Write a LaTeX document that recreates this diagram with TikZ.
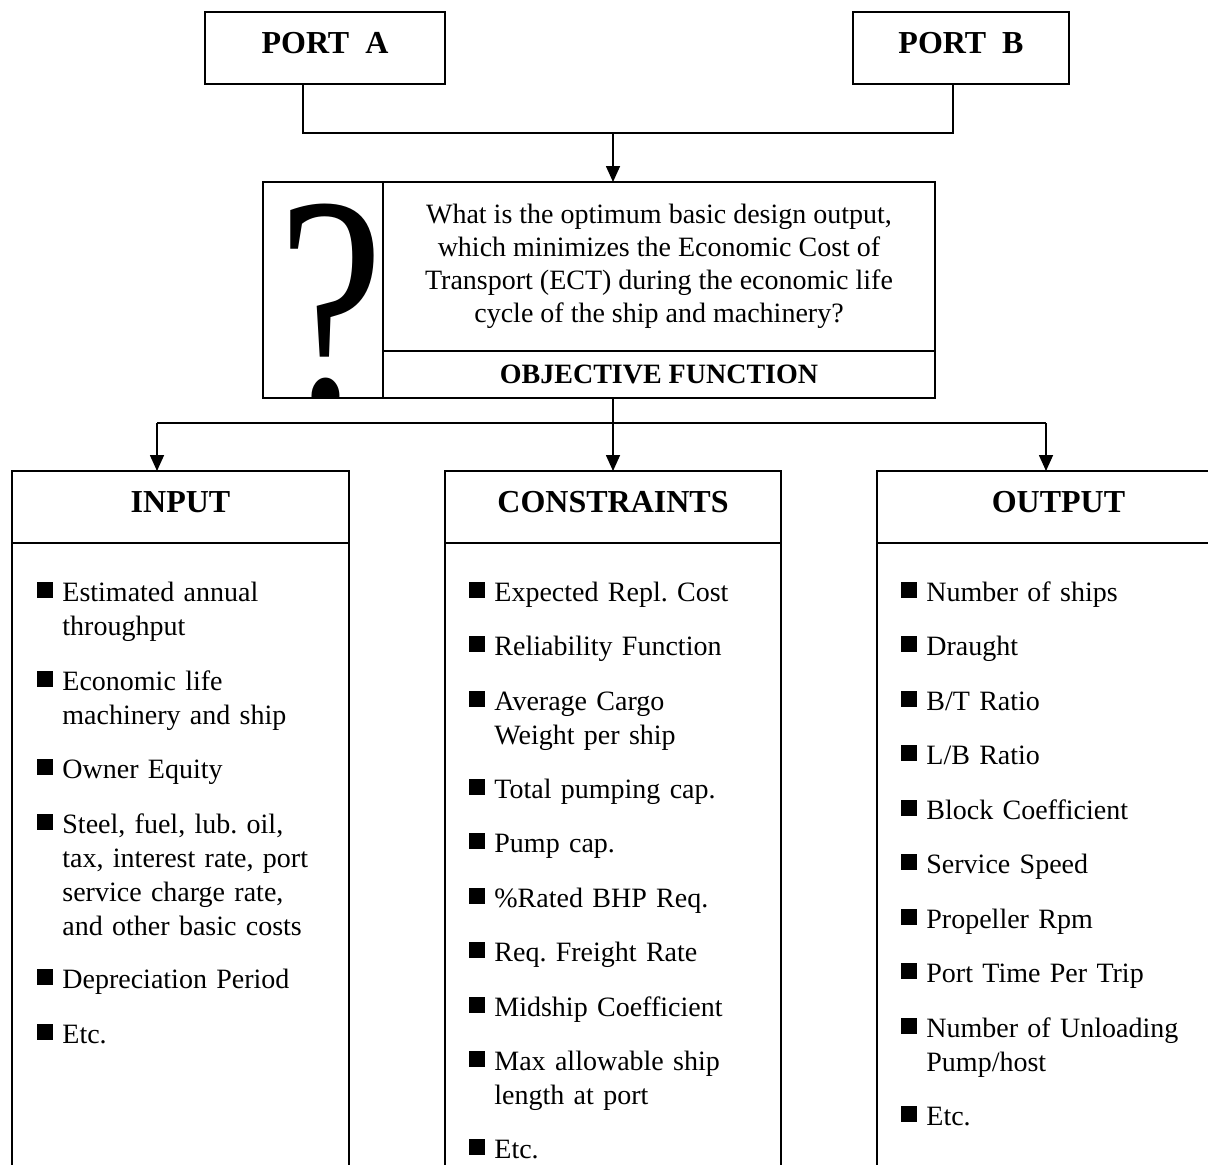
\documentclass[tikz,border=0pt]{standalone}
\usepackage{fontspec}
\setmainfont{Liberation Serif}
\usetikzlibrary{arrows.meta}
\frenchspacing

\newcommand{\sqbul}{\llap{\rule[1.5pt]{8pt}{8pt}\hspace{4.5pt}}}

\tikzset{
  portbox/.style={draw, line width=1pt, outer sep=0pt, inner sep=0pt,
    minimum width=#1, minimum height=36pt, text depth=5pt,
    font=\fontsize{16}{19}\selectfont\bfseries},
  qcell/.style={draw, line width=1pt, outer sep=0pt, inner sep=0pt},
  headbox/.style={draw, line width=1pt, outer sep=0pt, inner sep=0pt,
    minimum width=#1, minimum height=36pt, text depth=5pt,
    font=\fontsize{16}{19}\selectfont\bfseries},
  bodybox/.style={draw, line width=1pt, outer sep=0pt, inner sep=0pt,
    minimum width=#1, minimum height=330pt, anchor=north},
  listitem/.style={anchor=base west, inner sep=0pt, text width=150pt,
    align=left, font=\fontsize{14}{17}\selectfont\frenchspacing},
  link/.style={line width=0.8pt},
  arr/.style={line width=0.8pt, -{Triangle[width=7pt,length=8pt]}}
}

\begin{document}
\begin{tikzpicture}[x=0.5pt, y=0.5pt]
\clip (0,0) rectangle (1208,-1164);

% Ports
\node[portbox=120pt] (porta) at (325,-48) {PORT~~A};
\node[portbox=108pt] (portb) at (961,-48) {PORT~~B};

% Objective function
\node[qcell, minimum width=60pt, minimum height=108pt] (qmark) at (323,-290) {};
\node[qcell, minimum width=276pt, minimum height=84.5pt, align=center,
  font=\fontsize{14}{16.5}\selectfont] (qtext) at (659,-266.5)
  {What is the optimum basic design output,\\
   which minimizes the Economic Cost of\\
   Transport (ECT) during the economic life\\
   cycle of the ship and machinery?};
\node[qcell, minimum width=276pt, minimum height=23.5pt,
  font=\fontsize{14}{17}\selectfont\bfseries] (objfun) at (659,-374.5)
  {OBJECTIVE FUNCTION};
\begin{scope}
  \clip (qmark.south west) rectangle (qmark.north east);
  \node[anchor=base, inner sep=0pt] (qsign) at (331,-410)
    {\scalebox{1.05}[1.38]{\fontsize{113}{113}\selectfont ?}};
\end{scope}

% Ports to objective
\coordinate (adrop) at (303,-133);
\coordinate (bdrop) at (953,-133);
\coordinate (topjoin) at (613,-133);
\draw[link] (adrop |- porta.south) -- (adrop) -- (bdrop) -- (bdrop |- portb.south);
\draw[arr] (topjoin) -- (topjoin |- qtext.north);

% Input / constraints / output
\node[headbox=168.5pt] (inhead) at (180.5,-507) {INPUT};
\node[bodybox=168.5pt] (inbody) at (inhead.south) {};
\node[headbox=168pt] (conhead) at (613,-507) {CONSTRAINTS};
\node[bodybox=168pt] (conbody) at (conhead.south) {};
\node[headbox=181.5pt] (outhead) at (1058.5,-507) {OUTPUT};
\node[bodybox=181.5pt] (outbody) at (outhead.south) {};

% Objective to boxes
\coordinate (split) at (613,-423);
\coordinate (inturn) at (157,-423);
\coordinate (outturn) at (1046,-423);
\draw[link] (inturn) -- (outturn);
\draw[arr] (split |- objfun.south) -- (split |- conhead.north);
\draw[arr] (inturn) -- (inturn |- inhead.north);
\draw[arr] (outturn) -- (outturn |- outhead.north);

% Lists
\foreach \yy/\txt [count=\k] in {
    601/{Estimated annual\\throughput},
    690/{Economic life\\machinery and ship},
    778/{Owner Equity},
    833/{Steel, fuel, lub. oil,\\tax, interest rate, port\\service charge rate,\\and other basic costs},
    988/{Depreciation Period},
    1043/{Etc.}}
  \node[listitem] (in\k) at (62,-\yy) {\sqbul\txt};

\foreach \yy/\txt [count=\k] in {
    601/{Expected Repl. Cost},
    655/{Reliability Function},
    710/{Average Cargo\\Weight per ship},
    798/{Total pumping cap.},
    852/{Pump cap.},
    907/{\%Rated BHP Req.},
    961/{Req. Freight Rate},
    1016/{Midship Coefficient},
    1070/{Max allowable ship\\length at port},
    1158/{Etc.}}
  \node[listitem] (con\k) at (494,-\yy) {\sqbul\txt};

\foreach \yy/\txt [count=\k] in {
    601/{Number of ships},
    655/{Draught},
    710/{B/T Ratio},
    764/{L/B Ratio},
    819/{Block Coefficient},
    873/{Service Speed},
    928/{Propeller Rpm},
    982/{Port Time Per Trip},
    1037/{Number of Unloading\\Pump/host},
    1125/{Etc.}}
  \node[listitem] (out\k) at (926,-\yy) {\sqbul\txt};
\end{tikzpicture}
\end{document}
